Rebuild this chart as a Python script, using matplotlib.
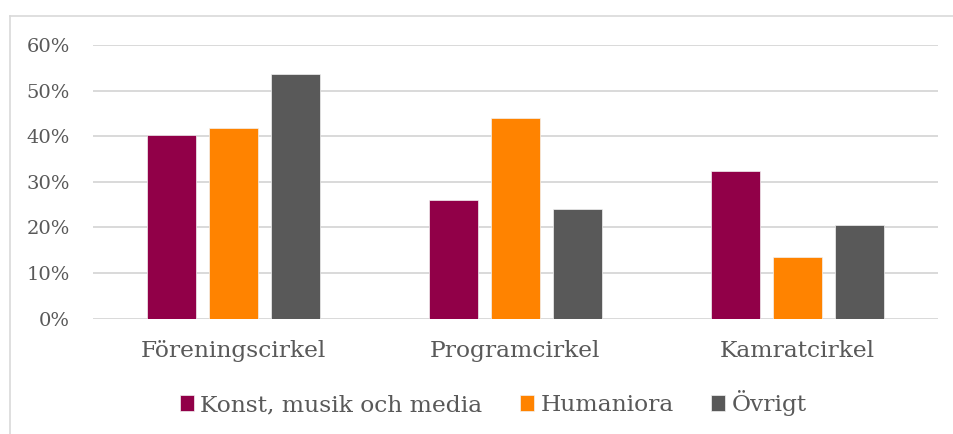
"""Grouped bar chart: share per circle type and subject area."""

import numpy as np
import matplotlib.pyplot as plt
from matplotlib.lines import Line2D
from matplotlib.ticker import PercentFormatter

plt.rcParams['font.family'] = ['DejaVu Serif']

categories = ['Föreningscirkel', 'Programcirkel', 'Kamratcirkel']
series = ['Konst, musik och media', 'Humaniora', 'Övrigt']
konst = [0.403, 0.260, 0.325]
humaniora = [0.418, 0.441, 0.134]
ovrigt = [0.536, 0.240, 0.205]
colors = ['#910048', '#FF8300', '#595959']

text_col = '#595959'
grid_col = '#d9d9d9'

fig = plt.figure(figsize=(9.54, 4.34), dpi=100)
ax = fig.add_axes([0.0975, 0.2661, 0.8857, 0.6295])

x = np.arange(len(categories))
width = 0.174
offset = 0.22
for i, (vals, name) in enumerate(zip([konst, humaniora, ovrigt], series)):
    ax.bar(x + (i - 1) * offset, vals, width, color=colors[i], label=name,
           edgecolor='#f2f2f2', linewidth=0.5, zorder=3)

ax.set_xlim(-0.5, 2.5)
ax.set_ylim(0, 0.6)
ax.set_yticks(np.arange(0, 0.61, 0.1))
ax.yaxis.set_major_formatter(PercentFormatter(1.0, decimals=0))
ax.set_xticks(x)
ax.set_xticklabels(categories)
ax.tick_params(axis='both', length=0, colors=text_col)
ax.tick_params(axis='y', pad=16.5, labelsize=14)
ax.tick_params(axis='x', pad=15.5, labelsize=16.8)
ax.grid(axis='y', color=grid_col, linewidth=1.4, zorder=0)
for s in ax.spines.values():
    s.set_visible(False)

leg = fig.legend(loc='center', bbox_to_anchor=(0.517, 0.071), ncol=3,
                 frameon=False, fontsize=16.8, handlelength=0.62,
                 handleheight=0.62, handletextpad=0.26, columnspacing=1.6)
for t in leg.get_texts():
    t.set_color(text_col)

# outer chart frame (only left and top edges are visible)
fig.add_artist(Line2D([0.0105, 0.0105], [0, 0.963], color=grid_col,
                      linewidth=1.2, transform=fig.transFigure))
fig.add_artist(Line2D([0.0105, 1.0], [0.963, 0.963], color=grid_col,
                      linewidth=1.2, transform=fig.transFigure))

fig.savefig('out.png', dpi=100)
